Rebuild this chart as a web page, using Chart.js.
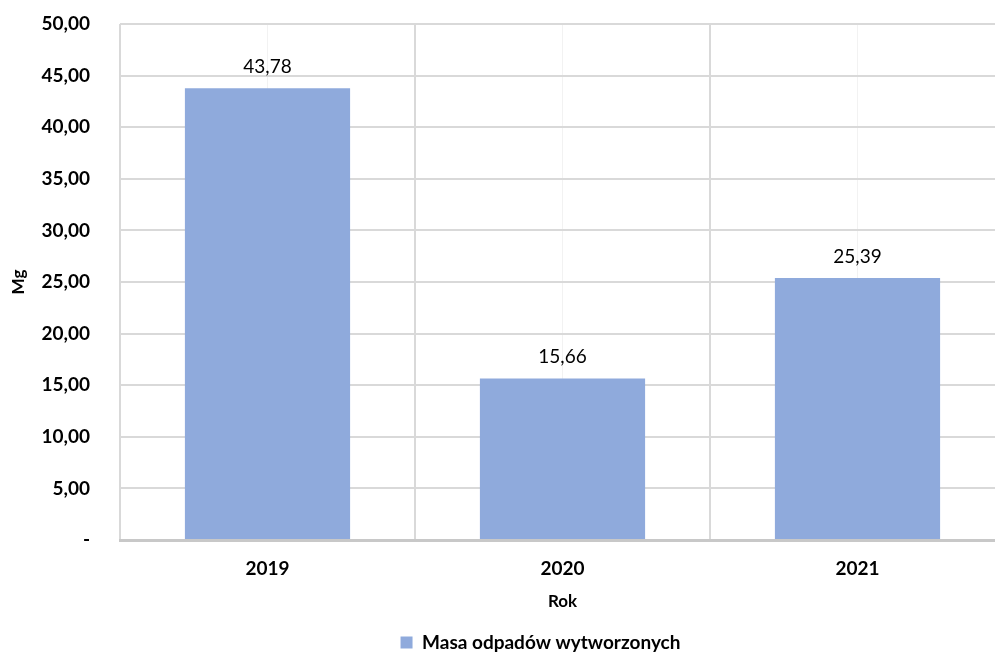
<!DOCTYPE html>
<html>
<head>
<meta charset="utf-8">
<script src="https://cdn.jsdelivr.net/npm/chart.js@4/dist/chart.umd.min.js"></script>
<style>
  html, body { margin: 0; padding: 0; background: #fff; overflow: hidden; }
  #wrap { width: 1080px; height: 653px; }
</style>
</head>
<body>
<div id="wrap"><canvas id="odpadyChart" width="1080" height="653"></canvas></div>
<script>
const years = ['2019', '2020', '2021'];
const masaOdpadow = [43.78, 15.66, 25.39];
const yTicks = [0, 5, 10, 15, 20, 25, 30, 35, 40, 45, 50];

const FONT = 'Lato, "Open Sans", sans-serif';
const fmt = (v) => v.toFixed(2).replace('.', ',');

// value above each bar
const valueLabels = {
    id: 'valueLabels',
    afterDatasetsDraw(chart) {
        const ctx = chart.ctx;
        const meta = chart.getDatasetMeta(0);
        ctx.save();
        ctx.font = '19px ' + FONT;
        ctx.fillStyle = '#000';
        ctx.textAlign = 'center';
        ctx.textBaseline = 'alphabetic';
        meta.data.forEach((bar, i) => {
            ctx.fillText(fmt(masaOdpadow[i]), bar.x, bar.y - 15);
        });
        ctx.restore();
    }
};

// centre the legend under the whole figure, not the plot
const legendShift = {
    id: 'legendShift',
    afterLayout(chart) {
        chart.legend.left += 35;
        chart.legend.right += 35;
    }
};

const ctx = document.getElementById('odpadyChart');
const myChart = new Chart(ctx, { //eslint-disable-line
    type: 'bar',
    data: {
        labels: years,
        datasets: [{
            label: 'Masa odpadów wytworzonych',
            data: masaOdpadow,
            backgroundColor: '#8FAADC',
            borderWidth: 0,
            barPercentage: 0.56,
            categoryPercentage: 1
        }]
    },
    options: {
        responsive: false,
        animation: false,
        devicePixelRatio: 1,
        layout: { padding: { top: 24, left: 6, right: 75, bottom: -9 } },
        plugins: {
            tooltip: { enabled: false },
            legend: {
                position: 'bottom',
                labels: {
                    boxWidth: 12,
                    boxHeight: 12,
                    padding: 0,
                    color: '#000',
                    font: { family: FONT, size: 19, weight: 'bold' }
                }
            }
        },
        scales: {
            x: {
                afterFit(axis) {
                    axis.height = 93;
                },
                grid: { color: '#d9d9d9', lineWidth: 2, drawTicks: false, offset: true },
                border: { color: '#c8c8c8', width: 3 },
                ticks: { color: '#000', padding: 19, font: { family: FONT, size: 19, weight: 'bold', lineHeight: 1 } },
                title: {
                    display: true,
                    text: 'Rok',
                    color: '#000',
                    padding: { top: 0, bottom: 21 },
                    font: { family: FONT, size: 17, weight: 'bold' }
                }
            },
            xc: {
                position: 'bottom',
                display: true,
                grid: { color: '#f2f2f2', lineWidth: 1, drawTicks: false, offset: false },
                border: { display: false },
                ticks: { display: false }
            },
            y: {
                min: 0,
                max: 50,
                afterBuildTicks(axis) {
                    axis.ticks = yTicks.map(v => ({ value: v }));
                },
                afterFit(axis) {
                    axis.width = 114;
                    axis.paddingTop = 0;
                    axis.paddingBottom = 0;
                },
                grid: { color: '#d9d9d9', lineWidth: 2, drawTicks: false },
                border: { display: false },
                ticks: {
                    color: '#000',
                    padding: 30,
                    font: { family: FONT, size: 19, weight: 'bold' },
                    callback: (v) => v === 0 ? '-' : fmt(v)
                },
                title: {
                    display: true,
                    text: 'Mg',
                    color: '#000',
                    padding: { top: 2, bottom: 0 },
                    font: { family: FONT, size: 17, weight: 'bold' }
                }
            }
        }
    },
    plugins: [valueLabels, legendShift]
});
</script>
</body>
</html>
